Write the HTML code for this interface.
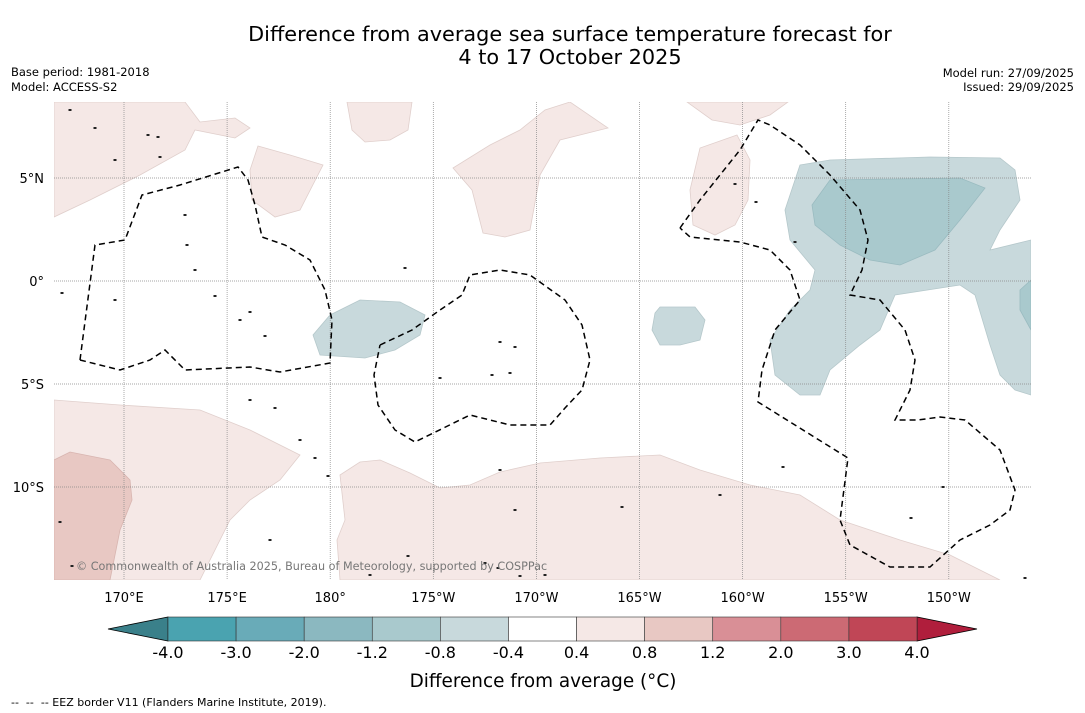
<!DOCTYPE html>
<html><head><meta charset="utf-8"><style>
body{margin:0;background:#fff;width:1085px;height:713px;overflow:hidden;font-family:"DejaVu Sans","Liberation Sans",sans-serif;}
svg{position:absolute;left:0;top:0}
</style></head><body>
<svg id="c" width="1085" height="713"></svg>
<script>
const lonTicks=[170,175,180,185,190,195,200,205,210];
const lonLabels=["170°E","175°E","180°","175°W","170°W","165°W","160°W","155°W","150°W"];
const latTicks=[5,0,-5,-10];
const latLabels=["5°N","0°","5°S","10°S"];
const binEdges=["-4.0","-3.0","-2.0","-1.2","-0.8","-0.4","0.4","0.8","1.2","2.0","3.0","4.0"];
const binColors=["#4aa3b0","#69abb8","#8bb8c0","#a9c9cd","#c8d9dc","#ffffff","#f5e8e6","#e8c8c3","#d98f96","#cc6a74","#c04656"];
const P=(x,y)=>[170+(x-124)/20.62,(281-y)/20.6];
const raw={
pink:[
[[54,102],[54,217],[90,200],[140,175],[185,150],[195,130],[235,138],[250,128],[235,118],[200,122],[185,102]],
[[258,146],[290,155],[323,165],[300,210],[275,217],[252,200],[250,170]],
[[347,102],[412,102],[408,130],[390,140],[365,142],[352,130]],
[[570,102],[608,128],[560,140],[540,175],[530,230],[505,237],[483,233],[472,190],[453,168],[490,145],[520,130],[545,110]],
[[687,102],[788,102],[770,115],[740,125],[712,120]],
[[737,135],[750,160],[748,200],[735,225],[715,235],[693,225],[690,190],[700,148]],
[[54,400],[120,405],[200,410],[250,430],[300,455],[280,480],[250,500],[230,520],[200,580],[54,580]],
[[340,475],[360,462],[380,460],[410,473],[440,488],[470,485],[500,472],[540,463],[600,458],[660,455],[700,470],[750,485],[800,495],[840,520],[900,540],[950,555],[1000,580],[340,580],[337,540],[345,520]]],
pink2:[[[54,460],[70,452],[110,460],[130,480],[132,500],[120,530],[110,580],[54,580]]],
blue1:[
[[800,165],[830,160],[930,157],[1000,158],[1015,170],[1020,200],[1000,230],[990,250],[1031,240],[1031,395],[1015,390],[1000,375],[990,345],[975,295],[960,285],[895,295],[880,330],[860,345],[830,370],[820,395],[800,395],[775,375],[770,340],[790,310],[810,290],[815,270],[790,240],[785,210]],
[[360,300],[400,302],[425,315],[420,335],[395,350],[365,358],[320,355],[313,335],[330,315]],
[[660,307],[695,307],[705,320],[700,340],[680,345],[660,345],[652,330],[655,313]]],
blue2:[[[830,180],[960,178],[985,188],[960,220],[935,250],[900,265],[870,260],[840,245],[815,225],[812,205]],
[[1020,290],[1031,280],[1031,330],[1020,310]]],
eez:[
[[80,360],[95,245],[125,240],[142,195],[180,185],[238,167],[248,180],[255,205],[262,237],[285,245],[310,260],[325,290],[332,320],[330,363],[280,372],[250,367],[185,370],[165,350],[150,360],[120,370],[80,360]],
[[380,345],[412,330],[440,310],[462,295],[470,275],[500,270],[530,275],[565,300],[582,325],[590,360],[582,390],[565,408],[550,425],[510,425],[470,415],[415,442],[395,430],[378,405],[374,375],[380,345]],
[[680,228],[700,200],[720,175],[740,150],[758,120],[770,125],[800,145],[830,175],[860,210],[868,240],[862,270],[850,295],[880,300],[905,330],[915,360],[910,390],[895,420],[918,420],[940,417],[965,420],[1000,450],[1015,490],[1010,510],[990,525],[960,540],[930,567],[890,567],[850,545],[840,520],[848,458],[758,402],[762,370],[775,330],[800,300],[790,270],[770,250],[740,242],[690,237],[680,228]]]
};
const regions={};for(const k in raw)regions[k]=raw[k].map(r=>r.map(p=>P(p[0],p[1])));
const islands=[[70,110],[95,128],[148,135],[158,137],[160,157],[115,160],[185,215],[187,245],[195,270],[215,296],[240,320],[250,312],[265,336],[405,268],[62,293],[115,300],[440,378],[492,375],[500,342],[515,347],[510,373],[250,400],[275,408],[300,440],[315,458],[328,476],[500,470],[515,510],[622,507],[720,495],[783,467],[795,242],[756,202],[735,184],[943,487],[911,518],[1025,578],[60,522],[72,566],[408,556],[520,576],[545,575],[485,563],[498,568],[370,575],[270,540]];
const X=lon=>124+(lon-170)*20.62, Y=lat=>281-lat*20.6;
const s=document.getElementById('c'),NS='http://www.w3.org/2000/svg';
function el(t,a,txt){const e=document.createElementNS(NS,t);for(const k in a)e.setAttribute(k,a[k]);if(txt!==undefined)e.textContent=txt;s.appendChild(e);return e;}
const pts=r=>r.map(p=>X(p[0]).toFixed(1)+','+Y(p[1]).toFixed(1)).join(' ');
const defs=el('defs',{});const cp=document.createElementNS(NS,'clipPath');cp.setAttribute('id','m');defs.appendChild(cp);
const cr=document.createElementNS(NS,'rect');cr.setAttribute('x',54);cr.setAttribute('y',102);cr.setAttribute('width',977);cr.setAttribute('height',478);cp.appendChild(cr);
const g=el('g',{'clip-path':'url(#m)'});
function add(t,a,parent){const e=document.createElementNS(NS,t);for(const k in a)e.setAttribute(k,a[k]);parent.appendChild(e);return e;}
const fills={pink:['#f5e8e6','#e0cfcc'],pink2:['#e8c8c3','#d8b5b0'],blue1:['#c8d9dc','#b5c8cb'],blue2:['#a9c9cd','#9abbc0']};
for(const k of ['pink','pink2','blue1','blue2'])regions[k].forEach((r,i)=>{const e=add('polygon',{points:pts(r),fill:fills[k][0],stroke:fills[k][1],'stroke-width':0.8},g);

});
lonTicks.forEach(l=>add('line',{x1:X(l),x2:X(l),y1:102,y2:580,stroke:'#888','stroke-width':0.7,'stroke-dasharray':'1,1'},g));
latTicks.forEach(l=>add('line',{x1:54,x2:1031,y1:Y(l),y2:Y(l),stroke:'#888','stroke-width':0.7,'stroke-dasharray':'1,1'},g));
regions.eez.forEach(r=>{const e=add('polyline',{points:pts(r),fill:'none',stroke:'#000','stroke-width':1.5,'stroke-dasharray':'6,4'},g);

});
islands.forEach(p=>{const q=P(p[0],p[1]);const e=add('rect',{x:X(q[0])-1.5,y:Y(q[1])-1,width:3,height:2,fill:'#222'},g);

});
el('text',{x:76,y:570,'font-size':11.2,fill:'#777',},'© Commonwealth of Australia 2025, Bureau of Meteorology, supported by COSPPac');
lonTicks.forEach((l,i)=>{const e=el('text',{x:X(l),y:602,'font-size':13,'text-anchor':'middle'},lonLabels[i]);});
latTicks.forEach((l,i)=>{const e=el('text',{x:44,y:Y(l)+5,'font-size':13,'text-anchor':'end'},latLabels[i]);});
el('text',{x:570,y:41,'font-size':20.8,'text-anchor':'middle',},'Difference from average sea surface temperature forecast for');
el('text',{x:570,y:64,'font-size':20.8,'text-anchor':'middle',},'4 to 17 October 2025');
el('text',{x:11,y:76,'font-size':11.5,},'Base period: 1981-2018');
el('text',{x:11,y:91,'font-size':11.5,},'Model: ACCESS-S2');
el('text',{x:1074,y:77,'font-size':11.5,'text-anchor':'end',},'Model run: 27/09/2025');
el('text',{x:1074,y:91,'font-size':11.5,'text-anchor':'end',},'Issued: 29/09/2025');
const cb0=168,cb1=917,cy0=617,cy1=641,w=(cb1-cb0)/binColors.length;
el('polygon',{points:`108,629 ${cb0},${cy0} ${cb0},${cy1}`,fill:'#3a808a',stroke:'#000','stroke-width':0.8,});
el('polygon',{points:`977,629 ${cb1},${cy0} ${cb1},${cy1}`,fill:'#b01e3c',stroke:'#000','stroke-width':0.8,});
binColors.forEach((c,i)=>{const e=el('rect',{x:cb0+i*w,y:cy0,width:w,height:cy1-cy0,fill:c,stroke:'#333','stroke-width':0.6});});
binEdges.forEach((t,i)=>{const e=el('text',{x:cb0+i*w,y:658,'font-size':16,'text-anchor':'middle'},t);});
el('text',{x:543,y:687,'font-size':18.4,'text-anchor':'middle',},'Difference from average (°C)');
el('text',{x:11,y:706,'font-size':11,'xml:space':'preserve','style':'white-space:pre',},'--  --  -- EEZ border V11 (Flanders Marine Institute, 2019).');
</script>
</body></html>
